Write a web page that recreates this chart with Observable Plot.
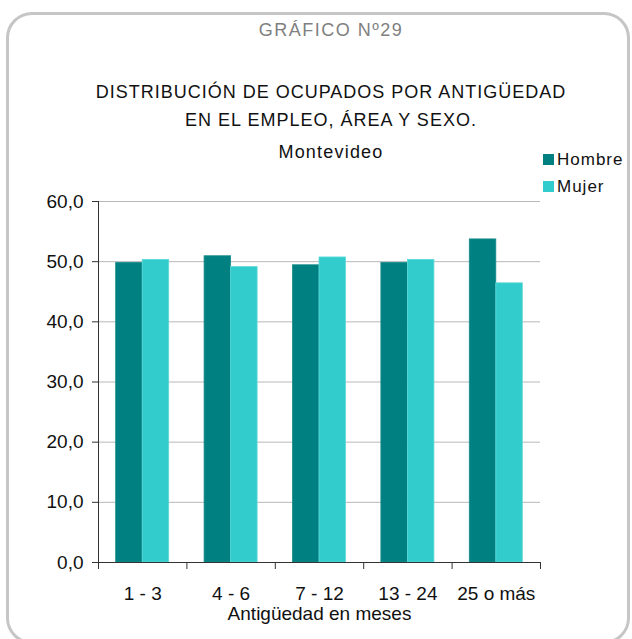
<!DOCTYPE html>
<html>
<head>
<meta charset="utf-8">
<script src="https://cdn.jsdelivr.net/npm/d3@7"></script>
<script src="https://cdn.jsdelivr.net/npm/@observablehq/plot@0.6"></script>
<style>
  html, body { margin: 0; padding: 0; background: #fff; }
  body { width: 632px; height: 639px; overflow: hidden; position: relative; font-family: "Liberation Sans", Arial, sans-serif; }
  #frame { position: absolute; left: 6px; top: 12px; width: 624px; height: 632px; box-sizing: border-box; border: 3px solid #c6c6c6; border-radius: 26px; }
  .t { position: absolute; left: 31px; width: 600px; text-align: center; white-space: nowrap; line-height: 1; }
  #sup { top: 21px; font-size: 18px; color: #808080; letter-spacing: 1.5px; }
  #l1 { top: 83px; font-size: 18px; color: #111; letter-spacing: 1px; }
  #l2 { top: 111px; font-size: 18px; color: #111; letter-spacing: 1px; }
  #l3 { top: 143px; font-size: 18px; color: #111; letter-spacing: 1.2px; }
  #legend { position: absolute; left: 543px; top: 146px; font-size: 17px; color: #111; }
  .li { display: flex; align-items: center; height: 27px; letter-spacing: 1px; }
  .sw { width: 11px; height: 11px; margin-right: 3px; }
  #chart { position: absolute; left: 0; top: 180px; }
  #chart svg g[aria-label^="axis"] text { letter-spacing: 0.5px; }
  #chart svg g[aria-label="text"] text { letter-spacing: 0px; }
</style>
</head>
<body>
<div id="frame"></div>
<div class="t" id="sup">GRÁFICO Nº29</div>
<div class="t" id="l1">DISTRIBUCIÓN DE OCUPADOS POR ANTIGÜEDAD</div>
<div class="t" id="l2">EN EL EMPLEO, ÁREA Y SEXO.</div>
<div class="t" id="l3">Montevideo</div>
<div id="legend"></div>
<div id="chart"></div>
<script>
const categories = ["1 - 3", "4 - 6", "7 - 12", "13 - 24", "25 o más"];
const series = ["Hombre", "Mujer"];
const hombre = [49.8, 50.9, 49.4, 49.8, 53.7];
const mujer = [50.3, 49.1, 50.7, 50.3, 46.4];
const yTicks = [0, 10, 20, 30, 40, 50, 60];
const colors = ["#008080", "#33CCCC"];
const xTitle = "Antigüedad en meses";

const rows = [];
categories.forEach((c, i) => {
  rows.push({cat: c, i, sex: series[0], value: hombre[i]});
  rows.push({cat: c, i, sex: series[1], value: mujer[i]});
});
const offset = {Hombre: 0.2, Mujer: 0.5};
const fmt = d => d.toFixed(1).replace(".", ",");

const plot = Plot.plot({
  width: 632,
  height: 459,
  marginTop: 21,
  marginBottom: 77,
  marginLeft: 98,
  marginRight: 92,
  style: {fontFamily: "'Liberation Sans', Arial, sans-serif", fontSize: "19px", color: "#111", background: "transparent"},
  x: {type: "linear", domain: [0, categories.length], axis: null},
  y: {domain: [0, 60], axis: null},
  color: {domain: series, range: colors},
  marks: [
    Plot.ruleY(yTicks.filter(d => d > 0), {stroke: "#b8b8b8", strokeWidth: 1}),
    Plot.rectY(rows, {
      x1: d => d.i + offset[d.sex],
      x2: d => d.i + offset[d.sex] + 0.3,
      y: "value",
      fill: "sex",
      stroke: d => d.sex === "Hombre" ? "#1a8c8c" : "#5fd9d9",
      strokeWidth: 0.8
    }),
    Plot.ruleX([0], {stroke: "#333", strokeWidth: 1}),
    Plot.ruleY([0], {stroke: "#333", strokeWidth: 1}),
    Plot.axisY({ticks: yTicks, tickFormat: fmt, tickSize: 6, tickPadding: 9, fontSize: 19, stroke: "#333", label: null}),
    Plot.axisX({ticks: d3.range(categories.length + 1), tickFormat: () => "", tickSize: 7, stroke: "#333", label: null}),
    Plot.axisX({ticks: categories.map((c, i) => i + 0.5), tickFormat: t => categories[Math.floor(t)], tickSize: 0, tickPadding: 24, fontSize: 19, label: null}),
    Plot.text([xTitle], {text: d => d, frameAnchor: "bottom", dy: 57, fontSize: 19, fill: "#111"})
  ]
});
document.getElementById("chart").appendChild(plot);

const legend = document.getElementById("legend");
series.forEach((s, k) => {
  const row = document.createElement("div");
  row.className = "li";
  const sw = document.createElement("span");
  sw.className = "sw";
  sw.style.background = colors[k];
  const lab = document.createElement("span");
  lab.textContent = s;
  row.appendChild(sw);
  row.appendChild(lab);
  legend.appendChild(row);
});
</script>
</body>
</html>
